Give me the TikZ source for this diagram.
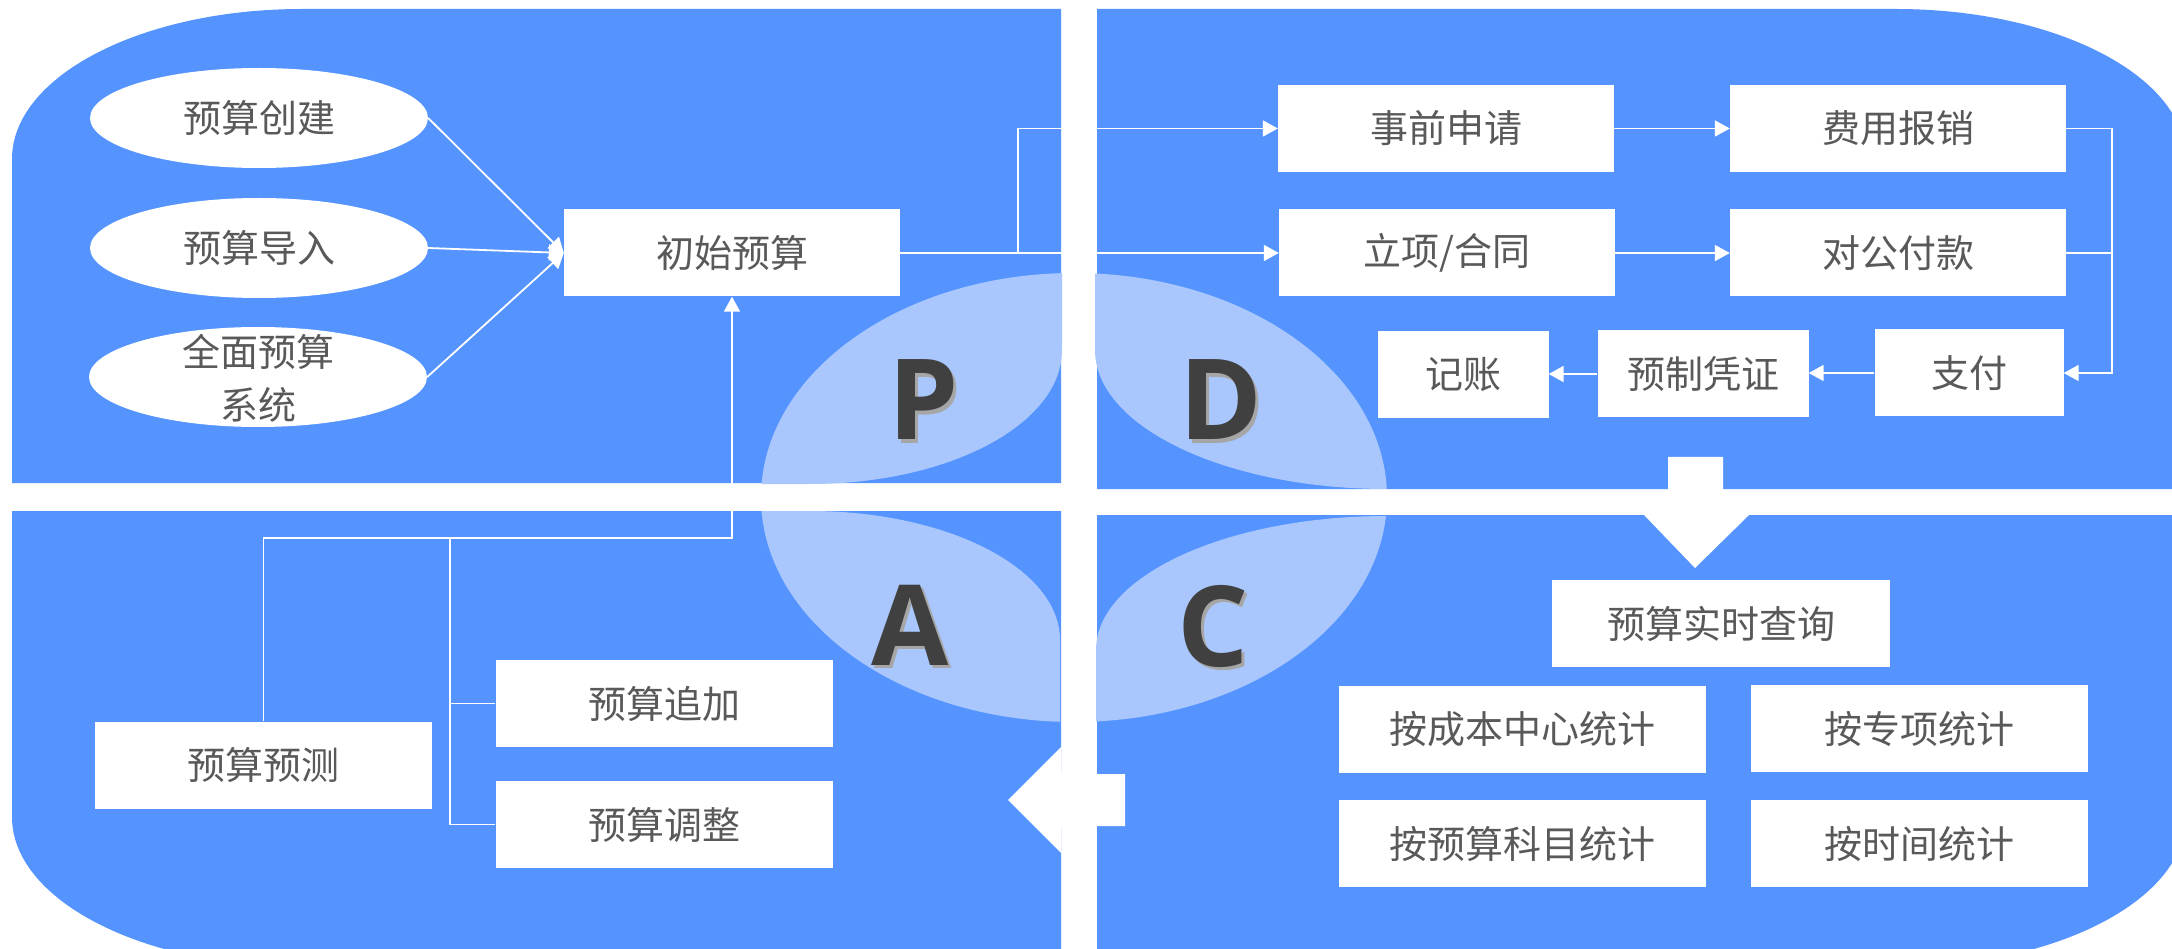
\documentclass[tikz,border=0pt]{standalone}
\usepackage{fontspec}
\setmainfont{Noto Sans CJK SC}
\newfontfamily\letterfont{Open Sans}
\usetikzlibrary{arrows.meta,shapes.geometric}
\definecolor{qblue}{HTML}{5594FF}
\definecolor{lobe}{HTML}{A9C7FC}
\definecolor{txtgray}{HTML}{595959}
\definecolor{lettergray}{HTML}{404040}
\tikzset{
  box/.style={rectangle, fill=white, draw=none, minimum height=87pt, inner sep=0pt,
              text=txtgray, font=\fontsize{38}{53}\selectfont},
  oval/.style={ellipse, fill=white, draw=none, minimum width=338pt, minimum height=100pt, inner sep=0pt},
  ovaltext/.style={text=txtgray, font=\fontsize{38}{53}\selectfont, align=center, inner sep=0pt},
  conn/.style={draw=white, line width=1.8pt},
  arr/.style={conn, -{Triangle[length=15pt,width=16pt]}},
  bigletter/.style={font=\letterfont\bfseries\fontsize{112}{112}\selectfont, text=lettergray, anchor=base, inner sep=0pt},
  bigshadow/.style={bigletter, text=black!35},
}
\begin{document}
\begin{tikzpicture}[x=1pt,y=-1pt]
\useasboundingbox (0,0) rectangle (2172,949);
\clip (0,0) rectangle (2172,949);
\fill[white] (0,0) rectangle (2172,949);
% quadrants
\fill[qblue] (12,483) -- (12,159) .. controls (12,76.2) and (141.8,9) .. (302,9) -- (1061,9) -- (1061,483) -- cycle;
\fill[qblue] (1097,489) -- (1097,9) -- (1896,9) .. controls (2056.2,9) and (2186,76.2) .. (2186,159) -- (2186,489) -- cycle;
\fill[qblue] (12,511) -- (1061,511) -- (1061,967) -- (302,967) .. controls (141.8,967) and (12,899.8) .. (12,817) -- cycle;
\fill[qblue] (1097,515) -- (2186,515) -- (2186,817) .. controls (2186,899.8) and (2056.2,967) .. (1896,967) -- (1097,967) -- cycle;
% lobes
\begin{scope}
  \clip (700,200) -- (1062,200) -- (1062,350) .. controls (1062,424) and (949.2,484) .. (810,484) -- (700,484) -- cycle;
  \fill[lobe] (1074,497.5) ellipse [x radius=313, y radius=224.5];
\end{scope}
\begin{scope}
  \clip (1095,200) -- (1095,350) .. controls (1095,426.8) and (1225.7,489) .. (1387,489) -- (1450,489) -- (1450,200) -- cycle;
  \fill[lobe] (1074,497.5) ellipse [x radius=313, y radius=224.5];
\end{scope}
\begin{scope}
  \clip (700,511) -- (810,511) .. controls (948,511) and (1060,568.8) .. (1060,640) -- (1060,800) -- (700,800) -- cycle;
  \fill[lobe] (1074,497.5) ellipse [x radius=313, y radius=224.5];
\end{scope}
\begin{scope}
  \clip (1096,800) -- (1096,650) .. controls (1096,576) and (1227,516) .. (1387,516) -- (1450,516) -- (1450,800) -- cycle;
  \fill[lobe] (1074,497.5) ellipse [x radius=313, y radius=224.5];
\end{scope}
% big white arrows
\fill[white] (1668,457) -- (1723,457) -- (1723,515) -- (1749,515) -- (1695,568) -- (1644,515) -- (1668,515) -- cycle;
\fill[white] (1125,774) -- (1125,826) -- (1061,826) -- (1061,853) -- (1008,800) -- (1061,747) -- (1061,774) -- cycle;
% letters
\node[bigshadow] (Ps) at (927,443) {P};
\node[bigletter] (P) at (924,440) {P};
\node[bigshadow] (Ds) at (1224,443) {D};
\node[bigletter] (D) at (1221,440) {D};
\node[bigshadow] (As) at (913,668) {A};
\node[bigletter] (A) at (910,665) {A};
\node[bigshadow] (Cs) at (1216,669) {C};
\node[bigletter] (C) at (1213,666) {C};
% P region
\node[oval] (e1) at (259,118) {};
\node[ovaltext] (t1) at (e1) {预算创建};
\node[oval] (e2) at (259,248) {};
\node[ovaltext] (t2) at (e2) {预算导入};
\node[oval] (e3) at (258,377) {};
\node[ovaltext] (t3) at (258,378) {全面预算\\系统};
\node[box, minimum width=336pt] (init) at (732,253) {初始预算};
% D region
\node[box, minimum width=336pt] (shiqian) at (1446,128.5) {事前申请};
\node[box, minimum width=336pt] (feiyong) at (1898,128.5) {费用报销};
\node[box, minimum width=336pt] (lixiang) at (1447,253) {立项/合同};
\node[box, minimum width=336pt] (duigong) at (1898,253) {对公付款};
\node[box, minimum width=171pt] (jizhang) at (1463,375) {记账};
\node[box, minimum width=211pt] (yuzhi) at (1703,374) {预制凭证};
\node[box, minimum width=189pt] (zhifu) at (1969,373) {支付};
% C region
\node[box, minimum width=338pt] (chaxun) at (1721,623.5) {预算实时查询};
\node[box, minimum width=367pt] (chengben) at (1522.5,729.5) {按成本中心统计};
\node[box, minimum width=337pt] (zhuanxiang) at (1919.5,728.5) {按专项统计};
\node[box, minimum width=367pt] (kemu) at (1522.5,843.5) {按预算科目统计};
\node[box, minimum width=337pt] (shijian) at (1919.5,843.5) {按时间统计};
% A region
\node[box, minimum width=337pt] (yuce) at (263.5,765) {预算预测};
\node[box, minimum width=337pt] (zhuijia) at (664,703.5) {预算追加};
\node[box, minimum width=337pt] (tiaozheng) at (664,824.5) {预算调整};
% connectors P
\draw[arr] (e1.east) -- (init.west);
\draw[arr] (e2.east) -- (init.west);
\draw[arr] (e3.east) -- (init.west);
\coordinate (j1) at (1018,253);
\draw[arr] (init.east) -- (lixiang.west);
\draw[arr] (j1) |- (shiqian.west);
% connectors D
\draw[arr] (shiqian.east) -- (feiyong.west);
\coordinate (rb) at (2112,373);
\draw[arr] (feiyong.east) -| (rb) -- (zhifu.east);
\draw[conn] (duigong.east) -- (duigong.east -| rb);
\draw[arr] (lixiang.east) -- (duigong.west);
\draw[arr] (zhifu.west) -- (yuzhi.east |- zhifu.west);
\draw[arr] (yuzhi.west) -- (jizhang.east |- yuzhi.west);
% connectors A
\coordinate (ka) at (732,538);
\coordinate (kb) at (450,538);
\draw[arr] (yuce.north) |- (ka) -- (init.south);
\draw[conn] (kb) |- (zhuijia.west);
\draw[conn] (kb) |- (tiaozheng.west);
\end{tikzpicture}
\end{document}
